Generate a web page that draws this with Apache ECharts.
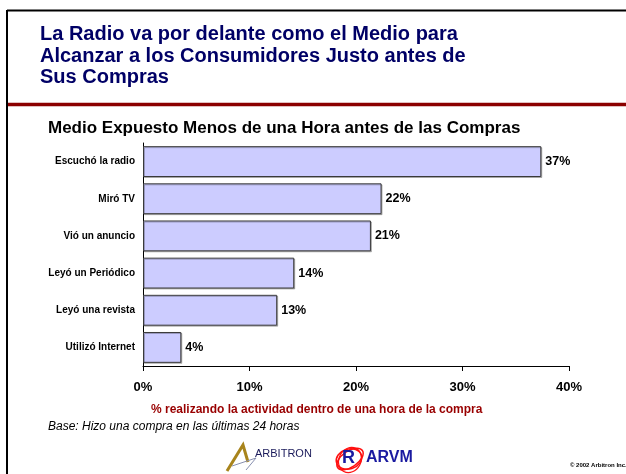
<!DOCTYPE html>
<html>
<head>
<meta charset="utf-8">
<script src="https://cdn.jsdelivr.net/npm/echarts@6/dist/echarts.min.js"></script>
<style>
  html, body { margin: 0; padding: 0; background: #fff; }
  #myCharts { width: 626px; height: 474px; }
</style>
</head>
<body>
<div id="myCharts"></div>
<script>
// data
var categories = [
  'Escuchó la radio',
  'Miró TV',
  'Vió un anuncio',
  'Leyó un Periódico',
  'Leyó una revista',
  'Utilizó Internet'
];
var values = [37.4, 22.4, 21.4, 14.2, 12.6, 3.6];
var xTicks = [0, 10, 20, 30, 40];

var font = 'Arial, "Liberation Sans", sans-serif';

var myCharts = echarts.init(document.getElementById('myCharts'));
myCharts.setOption({
  backgroundColor: '#ffffff',
  animation: false,
  grid: {
    left: 143,
    right: 57,
    top: 143,
    bottom: 108
  },
  xAxis: {
    type: 'value',
    min: xTicks[0],
    max: xTicks[xTicks.length - 1],
    interval: xTicks[1] - xTicks[0],
    axisLine: { show: true, lineStyle: { color: '#000', width: 1 } },
    axisTick: { show: true, inside: false, length: 5, lineStyle: { color: '#000' } },
    splitLine: { show: false },
    axisLabel: {
      formatter: '{value}%',
      color: '#000',
      fontFamily: font,
      fontWeight: 'bold',
      fontSize: 13,
      margin: 15
    }
  },
  yAxis: {
    type: 'category',
    inverse: true,
    data: categories,
    axisLine: { show: true, lineStyle: { color: '#000', width: 1 } },
    axisTick: { show: false },
    axisLabel: {
      color: '#000',
      fontFamily: font,
      fontWeight: 'bold',
      fontSize: 10,
      margin: 8
    }
  },
  series: [
    {
      type: 'bar',
      data: values,
      barCategoryGap: '17%',
      itemStyle: {
        color: '#CCCCFF',
        borderColor: '#3a3a3a',
        borderWidth: 1,
        shadowColor: 'rgba(0,0,0,0.25)',
        shadowOffsetX: 1,
        shadowOffsetY: 1
      },
      label: {
        show: true,
        position: 'right',
        distance: 4,
        color: '#000',
        fontFamily: font,
        fontWeight: 'bold',
        fontSize: 12.5,
        formatter: function (p) {
          return Math.round(p.value) + '%';
        }
      }
    }
  ],
  graphic: [
    // frame
    { type: 'line', shape: { x1: 7, y1: 10.5, x2: 626, y2: 10.5 }, style: { stroke: '#000', lineWidth: 2 } },
    { type: 'line', shape: { x1: 7, y1: 10, x2: 7, y2: 474 }, style: { stroke: '#000', lineWidth: 2 } },
    { type: 'line', shape: { x1: 8, y1: 104.5, x2: 626, y2: 104.5 }, style: { stroke: '#8B0000', lineWidth: 3.5 } },
    {
      type: 'text',
      left: 40,
      top: 24,
      style: {
        text: 'La Radio va por delante como el Medio para\nAlcanzar a los Consumidores Justo antes de\nSus Compras',
        fill: '#000066',
        font: 'bold 20px ' + font,
        lineHeight: 21.5
      }
    },
    {
      type: 'text',
      left: 48,
      top: 120,
      style: {
        text: 'Medio Expuesto Menos de una Hora antes de las Compras',
        fill: '#000',
        font: 'bold 17px ' + font
      }
    },
    {
      type: 'text',
      left: 151,
      top: 404,
      style: {
        text: '% realizando la actividad dentro de una hora de la compra',
        fill: '#990000',
        font: 'bold 12px ' + font
      }
    },
    {
      type: 'text',
      left: 48,
      top: 421,
      style: {
        text: 'Base: Hizo una compra en las últimas 24 horas',
        fill: '#000',
        font: 'italic 12px ' + font
      }
    },
    // Arbitron logo
    { type: 'polyline', shape: { points: [[227, 471], [243, 445], [248, 462]] }, style: { stroke: '#A8841C', lineWidth: 3, fill: null } },
    { type: 'polyline', shape: { points: [[232, 466], [256, 458], [246, 470]] }, style: { stroke: '#8890B0', lineWidth: 1, fill: null } },
    {
      type: 'text',
      left: 255,
      top: 448,
      style: {
        text: 'ARBITRON',
        fill: '#1a1a5a',
        font: '11px ' + font,
        letterSpacing: 1.8
      }
    },
    // ARVM logo
    { type: 'ellipse', shape: { cx: 350, cy: 459, rx: 15, ry: 8 }, rotation: 0.6, originX: 350, originY: 459, style: { stroke: '#ff1010', lineWidth: 1.5, fill: null } },
    { type: 'ellipse', shape: { cx: 349, cy: 459, rx: 13, ry: 10 }, rotation: 0.3, originX: 349, originY: 459, style: { stroke: '#ff1010', lineWidth: 1.5, fill: null } },
    { type: 'ellipse', shape: { cx: 350, cy: 460, rx: 11, ry: 13 }, rotation: -0.5, originX: 350, originY: 460, style: { stroke: '#ff1010', lineWidth: 1.2, fill: null } },
    {
      type: 'text',
      left: 342,
      top: 449,
      style: { text: 'R', fill: '#1a1aa0', font: 'bold 18px ' + font }
    },
    {
      type: 'text',
      left: 366,
      top: 450,
      style: { text: 'ARVM', fill: '#1a1aa0', font: 'bold 16px ' + font }
    },
    {
      type: 'text',
      left: 570,
      top: 462,
      style: { text: '© 2002 Arbitron Inc.', fill: '#000', font: 'bold 6px ' + font }
    }
  ]
});
</script>
</body>
</html>
